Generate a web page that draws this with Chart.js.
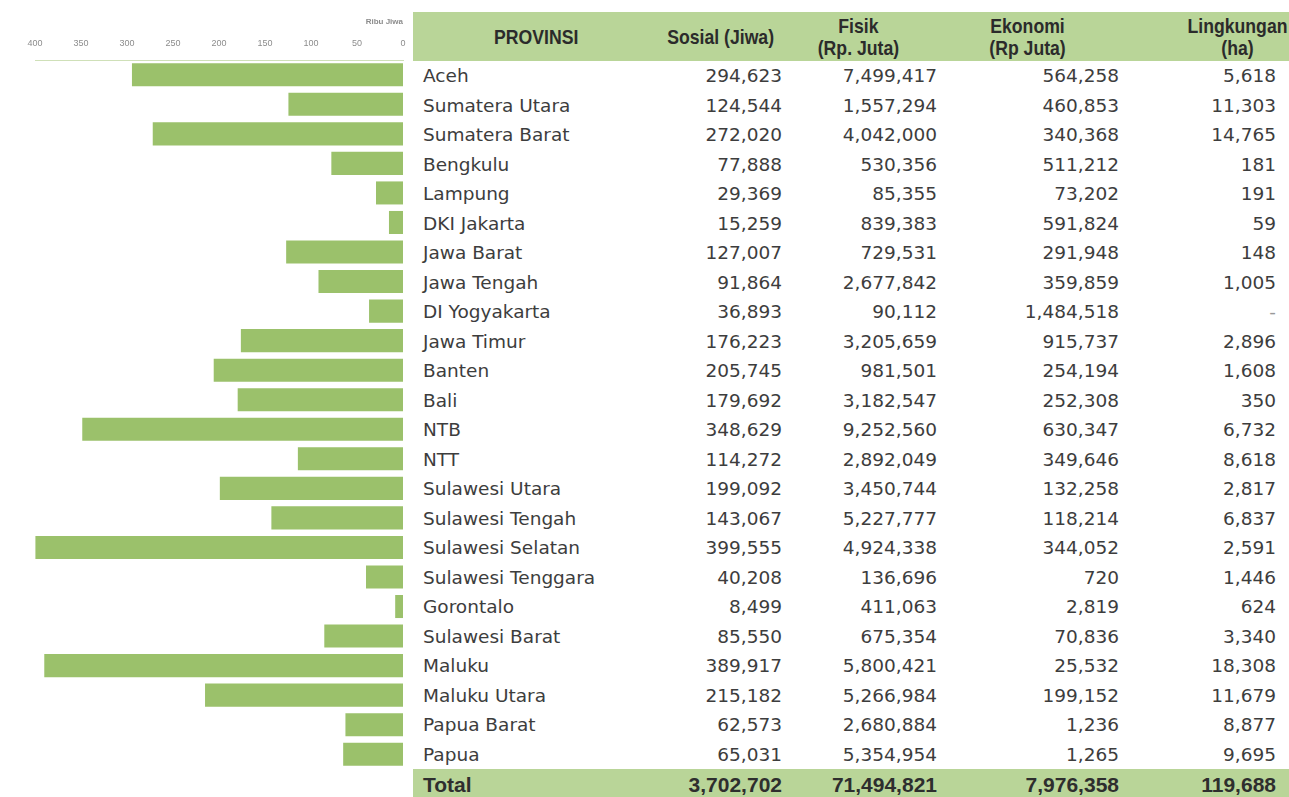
<!DOCTYPE html>
<html>
<head>
<meta charset="utf-8">
<script src="https://cdn.jsdelivr.net/npm/chart.js@4/dist/chart.umd.min.js"></script>
<style>
    html, body { margin: 0; padding: 0; background: #ffffff; }
    body { width: 1289px; height: 797px; overflow: hidden; position: relative; }
    #chart { position: absolute; left: 0; top: 0; }
    #table { position: absolute; left: 413px; top: 12px; width: 876px; }
    .row { display: flex; box-sizing: border-box; }
    .cell { box-sizing: border-box; white-space: nowrap; flex: none; }
    .c1 { width: 227px; }
    .c2 { width: 150px; }
    .c3 { width: 155px; }
    .c4 { width: 182px; }
    .c5 { width: 162px; }
    .head { height: 49px; background: #b9d598; font-family: "Liberation Sans", Arial, sans-serif;
        font-weight: bold; font-size: 21px; line-height: 22px; color: #2b2b2b; align-items: center; }
    .head .cell { display: flex; justify-content: center; text-align: center; }
    .head .cell span { display: inline-block; flex: none; transform: scaleX(0.84); transform-origin: center; }
    .body { height: 29.5px; line-height: 29.5px; font-family: "DejaVu Sans", sans-serif; font-size: 18.5px; color: #3d3d3d; }
    .body .cell, .total .cell { text-align: right; }
    .body .c1, .total .c1 { text-align: left; padding-left: 10px; }
    .body .c2, .total .c2, .body .c3, .total .c3, .body .c4, .total .c4 { padding-right: 8px; }
    .body .c5, .total .c5 { padding-right: 13px; }
    .total { height: 32px; line-height: 32px; background: #b9d598; font-family: "Liberation Sans", sans-serif;
        font-weight: bold; font-size: 21px; color: #2e2e2e; }
</style>
</head>
<body>
<canvas id="chart" width="413" height="797"></canvas>
<div id="table"></div>
<script>
// Dampak bencana per provinsi
const provinsi = ['Aceh', 'Sumatera Utara', 'Sumatera Barat', 'Bengkulu', 'Lampung', 'DKI Jakarta',
    'Jawa Barat', 'Jawa Tengah', 'DI Yogyakarta', 'Jawa Timur', 'Banten', 'Bali', 'NTB', 'NTT',
    'Sulawesi Utara', 'Sulawesi Tengah', 'Sulawesi Selatan', 'Sulawesi Tenggara', 'Gorontalo',
    'Sulawesi Barat', 'Maluku', 'Maluku Utara', 'Papua Barat', 'Papua'];
const sosial = [294623, 124544, 272020, 77888, 29369, 15259, 127007, 91864, 36893, 176223, 205745,
    179692, 348629, 114272, 199092, 143067, 399555, 40208, 8499, 85550, 389917, 215182, 62573, 65031];
const fisik = [7499417, 1557294, 4042000, 530356, 85355, 839383, 729531, 2677842, 90112, 3205659,
    981501, 3182547, 9252560, 2892049, 3450744, 5227777, 4924338, 136696, 411063, 675354, 5800421,
    5266984, 2680884, 5354954];
const ekonomi = [564258, 460853, 340368, 511212, 73202, 591824, 291948, 359859, 1484518, 915737,
    254194, 252308, 630347, 349646, 132258, 118214, 344052, 720, 2819, 70836, 25532, 199152, 1236, 1265];
const lingkungan = [5618, 11303, 14765, 181, 191, 59, 148, 1005, null, 2896, 1608, 350, 6732, 8618,
    2817, 6837, 2591, 1446, 624, 3340, 18308, 11679, 8877, 9695];
const total = ['Total', 3702702, 71494821, 7976358, 119688];
const headers = ['PROVINSI', 'Sosial (Jiwa)', 'Fisik<br>(Rp. Juta)', 'Ekonomi<br>(Rp Juta)', 'Lingkungan<br>(ha)'];
const xTicks = [0, 50, 100, 150, 200, 250, 300, 350, 400];

const fmt = v => v === null ? '-' : v.toLocaleString('en-US');

// table
const headPad = ['padding-left:19px', 'padding-left:12px', 'padding-right:19px', 'padding-right:18px', 'padding-left:58px'];
let html = '<div class="row head">' + headers.map((h, i) =>
    '<div class="cell c' + (i + 1) + '" style="' + headPad[i] + '"><span>' + h + '</span></div>').join('') + '</div>';
for (let i = 0; i < provinsi.length; i++) {
    const vals = [provinsi[i], fmt(sosial[i]), fmt(fisik[i]), fmt(ekonomi[i]), fmt(lingkungan[i])];
    html += '<div class="row body">' + vals.map((v, j) =>
        '<div class="cell c' + (j + 1) + '"' + (v === '-' ? ' style="color:#999"' : '') + '>' + v + '</div>').join('') + '</div>';
}
html += '<div class="row total">' + total.map((v, j) =>
    '<div class="cell c' + (j + 1) + '">' + (j === 0 ? v : fmt(v)) + '</div>').join('') + '</div>';
document.getElementById('table').innerHTML = html;

// bar chart, ribu jiwa
const titleFont = { size: 8, weight: 'bold', family: 'Liberation Sans', lineHeight: 1 };
const titlePad = { top: 18, bottom: 0 };

const config = {
    type: 'bar',
    data: {
        labels: provinsi,
        datasets: [{
            data: sosial.map(v => v / 1000),
            backgroundColor: '#9bc16b',
            borderWidth: 0,
            barPercentage: 0.78,
            categoryPercentage: 1.0
        }]
    },
    options: {
        indexAxis: 'y',
        responsive: false,
        animation: false,
        layout: { padding: { left: 35, right: 10, top: 0, bottom: 28 } },
        plugins: {
            legend: { display: false },
            tooltip: { enabled: false },
            title: {
                display: true,
                text: 'Ribu Jiwa',
                align: 'end',
                color: '#8c8c8c',
                font: titleFont,
                padding: titlePad
            }
        },
        scales: {
            x: {
                position: 'top',
                reverse: true,
                min: 0,
                max: 400,
                afterBuildTicks: s => { s.ticks = xTicks.map(v => ({ value: v })); },
                afterFit: s => { s.height = 60 - (titlePad.top + titlePad.bottom + titleFont.size); },
                ticks: {
                    color: '#8c8c8c',
                    font: { size: 9, family: 'Liberation Sans' },
                    padding: 11,
                    maxRotation: 0,
                    autoSkip: false
                },
                grid: { display: false, drawTicks: false },
                border: { display: true, color: '#cfe0b8', width: 1 }
            },
            y: {
                display: false
            }
        }
    }
};

new Chart(document.getElementById('chart').getContext('2d'), config);
</script>
</body>
</html>
